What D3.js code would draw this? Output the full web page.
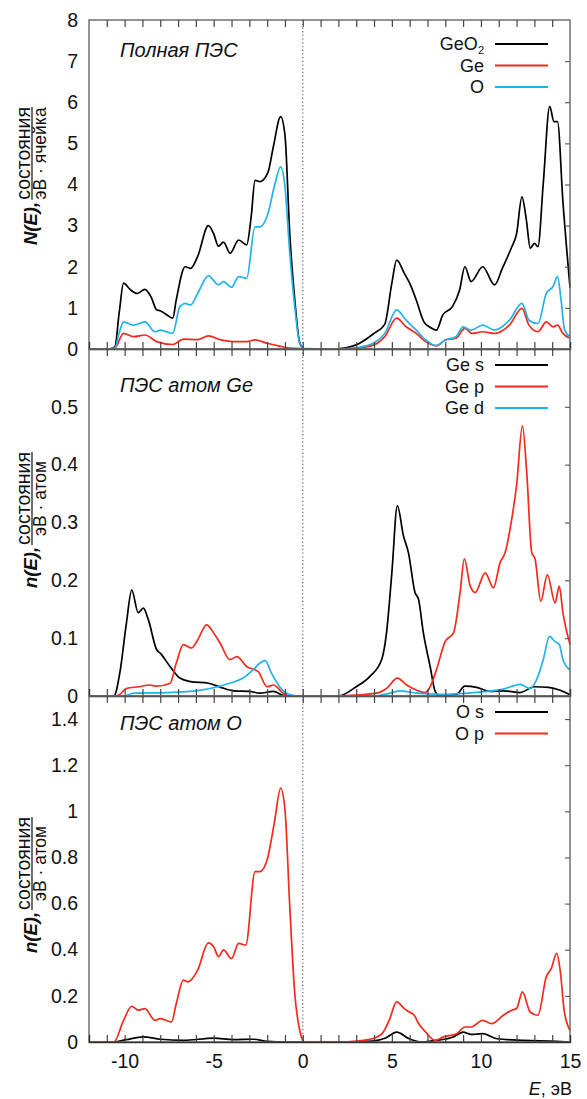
<!DOCTYPE html>
<html><head><meta charset="utf-8">
<script src="https://cdn.jsdelivr.net/npm/d3@7"></script>
<style>
html,body{margin:0;padding:0;background:#fff;}
text{font-family:"Liberation Sans",Arial,sans-serif;fill:#111;}
</style></head>
<body>
<svg id="chart" width="587" height="1099"></svg>
<script>
// ---------- DATA (energy eV, density) ----------
const xTickValues = [-10, -5, 0, 5, 10, 15];

// Panel 1: total DOS
const totalGeO2 = [[-12,0],[-10.9,0],[-10.55,0.05],[-10.3,0.9],[-10.06,1.6],[-9.7,1.45],[-9.3,1.35],[-8.86,1.45],[-8.5,1.25],[-8.2,0.95],[-8.0,0.93],[-7.6,0.82],[-7.3,0.75],[-7.1,1.2],[-6.6,2.0],[-6.3,1.96],[-5.9,2.25],[-5.3,3.0],[-5.0,2.8],[-4.73,2.5],[-4.45,2.6],[-4.08,2.33],[-3.6,2.65],[-3.15,2.53],[-2.9,3.2],[-2.68,4.1],[-2.4,4.07],[-1.95,4.3],[-1.66,4.9],[-1.24,5.65],[-1.0,5.2],[-0.73,2.8],[-0.45,1.2],[-0.17,0.15],[0.1,0],[1.8,0],[3,0.1],[4,0.38],[4.6,0.6],[5.0,1.6],[5.27,2.16],[5.7,1.84],[6.0,1.6],[6.37,1.19],[6.8,0.66],[7.1,0.54],[7.5,0.46],[7.86,0.83],[8.4,1.03],[8.8,1.43],[9.1,2.0],[9.45,1.64],[10.1,2.0],[10.77,1.56],[11.2,1.96],[11.7,2.45],[12.0,2.8],[12.3,3.7],[12.55,3.14],[12.77,2.45],[13.0,2.57],[13.2,2.49],[13.5,4.03],[13.86,5.9],[14.1,5.53],[14.3,5.53],[14.6,3.6],[15,1.5]];
const totalGe = [[-12,0],[-10.9,0],[-10.55,0.02],[-10.06,0.38],[-9.5,0.3],[-8.86,0.34],[-8.2,0.18],[-7.3,0.11],[-6.7,0.24],[-5.9,0.23],[-5.3,0.32],[-4.6,0.22],[-3.9,0.18],[-3.15,0.18],[-2.68,0.22],[-2.0,0.14],[-1.3,0.07],[-0.7,0.02],[0,0.01],[1.8,0],[3,0.02],[4,0.1],[4.6,0.3],[5.27,0.75],[5.8,0.54],[6.37,0.38],[6.9,0.18],[7.5,0.08],[8.0,0.22],[8.6,0.26],[9.1,0.5],[9.5,0.38],[10.1,0.42],[10.77,0.38],[11.6,0.58],[12.3,0.99],[12.7,0.58],[13.2,0.42],[13.67,0.66],[14.05,0.54],[14.3,0.58],[14.6,0.38],[15,0.26]];
const totalO = [[-12,0],[-10.9,0],[-10.55,0.02],[-10.3,0.4],[-10.06,0.66],[-9.5,0.58],[-8.86,0.66],[-8.3,0.42],[-8.0,0.46],[-7.3,0.38],[-6.9,1.03],[-6.6,1.11],[-6.3,1.07],[-5.9,1.35],[-5.3,1.78],[-4.73,1.56],[-4.45,1.64],[-4.0,1.5],[-3.6,1.76],[-3.15,1.72],[-2.68,2.97],[-2.4,2.97],[-1.95,3.3],[-1.6,3.95],[-1.24,4.43],[-1.0,3.95],[-0.73,2.33],[-0.45,1.03],[-0.17,0.14],[0.1,0],[1.8,0],[3,0.03],[4,0.15],[4.6,0.38],[5.27,0.95],[5.8,0.7],[6.37,0.46],[6.9,0.22],[7.5,0.08],[8.0,0.22],[8.6,0.3],[9.0,0.54],[9.45,0.46],[10.1,0.58],[10.77,0.46],[11.6,0.7],[12.3,1.11],[12.7,0.7],[13.2,0.62],[13.67,1.35],[14.05,1.52],[14.3,1.76],[14.5,1.19],[14.7,0.46],[15,0.3]];

// Panel 2: Ge partial DOS
const geS = [[-12,0],[-10.6,0],[-10.27,0.04],[-9.9,0.126],[-9.6,0.183],[-9.24,0.144],[-8.95,0.152],[-8.67,0.132],[-8.2,0.08],[-8.0,0.074],[-7.45,0.051],[-6.9,0.031],[-6.3,0.025],[-5.3,0.022],[-4.6,0.015],[-3.9,0.009],[-3.0,0.008],[-2.4,0.005],[-1.65,0.008],[-1.1,0.001],[-0.8,0],[2.0,0],[3.0,0.016],[3.77,0.034],[4.43,0.063],[4.7,0.109],[5.0,0.213],[5.31,0.329],[5.65,0.277],[5.93,0.248],[6.3,0.179],[6.5,0.167],[6.77,0.109],[7.15,0.051],[7.43,0.008],[7.7,0],[8.64,0.003],[9.1,0.017],[9.77,0.015],[10.5,0.008],[11.26,0.009],[12.2,0.006],[13.0,0.016],[13.8,0.015],[14.45,0.01],[15,0.002]];
const geP = [[-12,0],[-10.5,0],[-10.3,0.002],[-9.9,0.013],[-9.2,0.016],[-8.6,0.019],[-8.2,0.017],[-7.45,0.022],[-7.1,0.057],[-6.7,0.089],[-6.25,0.083],[-5.9,0.097],[-5.4,0.123],[-5.0,0.109],[-4.6,0.089],[-4.1,0.063],[-3.7,0.068],[-3.15,0.051],[-2.5,0.042],[-2.0,0.016],[-1.65,0.019],[-1.1,0.005],[-0.7,0],[2.0,0],[4.15,0.005],[4.7,0.013],[5.31,0.031],[5.83,0.019],[6.4,0.01],[6.86,0.006],[7.15,0.016],[7.5,0.045],[7.99,0.094],[8.46,0.109],[8.83,0.179],[9.07,0.237],[9.4,0.19],[9.68,0.179],[10.24,0.213],[10.7,0.187],[11.08,0.231],[11.36,0.248],[11.73,0.306],[12.0,0.364],[12.33,0.467],[12.57,0.387],[12.85,0.248],[13.04,0.237],[13.36,0.164],[13.73,0.21],[14.16,0.161],[14.4,0.19],[14.6,0.144],[15,0.089]];
const geD = [[-12,0],[-10.0,0],[-9.5,0.005],[-7.6,0.006],[-6.3,0.008],[-5.2,0.013],[-4.1,0.022],[-3.35,0.031],[-2.8,0.045],[-2.4,0.057],[-2.1,0.061],[-1.8,0.042],[-1.3,0.016],[-0.7,0.002],[-0.3,0],[4.0,0],[4.9,0.005],[5.46,0.009],[6.4,0.005],[7.7,0.003],[9.6,0.006],[11.26,0.012],[12.2,0.02],[12.76,0.013],[13.2,0.034],[13.5,0.063],[13.85,0.103],[14.16,0.094],[14.4,0.089],[14.6,0.063],[15,0.045]];

// Panel 3: O partial DOS
const oS = [[-12,0],[-10.6,0],[-9.9,0.01],[-8.95,0.022],[-8.0,0.012],[-6.7,0.007],[-5.0,0.017],[-3.9,0.01],[-2.77,0.012],[-2.0,0.003],[-0.9,0],[2.0,0],[3.9,0.004],[4.65,0.017],[5.27,0.043],[5.98,0.014],[6.7,0],[7.5,0.007],[8.45,0.022],[9.0,0.043],[9.45,0.033],[10.1,0.036],[10.9,0.014],[12.4,0.007],[14.25,0.003],[15,0]];
const oP = [[-12,0],[-10.6,0],[-10.06,0.094],[-9.6,0.155],[-9.24,0.138],[-8.86,0.145],[-8.3,0.094],[-8.0,0.101],[-7.37,0.087],[-7.1,0.167],[-6.7,0.268],[-6.45,0.261],[-5.9,0.312],[-5.3,0.43],[-5.0,0.413],[-4.73,0.37],[-4.45,0.399],[-4.0,0.362],[-3.6,0.428],[-3.2,0.42],[-2.68,0.739],[-2.4,0.739],[-2.0,0.79],[-1.6,0.949],[-1.24,1.101],[-1.0,1.007],[-0.73,0.587],[-0.45,0.21],[-0.17,0.05],[0.1,0],[2.0,0],[3.0,0.004],[3.9,0.014],[4.45,0.036],[4.85,0.094],[5.27,0.174],[5.7,0.145],[5.98,0.13],[6.26,0.116],[6.5,0.08],[6.9,0.043],[7.43,0.007],[7.9,0.022],[8.64,0.036],[9.1,0.065],[9.45,0.065],[10.1,0.094],[10.6,0.08],[11.26,0.116],[11.73,0.138],[12.0,0.145],[12.33,0.217],[12.76,0.13],[13.2,0.116],[13.67,0.283],[13.95,0.319],[14.25,0.384],[14.47,0.297],[14.67,0.138],[15,0.051]];

const panel1Labels = ["GeO2", "Ge", "O"];
const panel2Labels = ["Ge s", "Ge p", "Ge d"];
const panel3Labels = ["O s", "O p"];
const panelTitles = ["Полная ПЭС", "ПЭС атом Ge", "ПЭС атом O"];
const panel1YTicks = [0,1,2,3,4,5,6,7,8];
const panel2YTicks = [0,0.1,0.2,0.3,0.4,0.5];
const panel3YTicks = [0,0.2,0.4,0.6,0.8,1,1.2,1.4];

// ---------- LAYOUT ----------
const svg = d3.select('#chart');
svg.append('rect').attr('width',587).attr('height',1099).attr('fill','#fff');
const colors = ['#000000', '#f5291c', '#1fb3ea'];
const x = d3.scaleLinear().domain([-12, 15]).range([89, 570]);

const panels = [
  {top:20, bottom:349, domain:[0,8], ticks:panel1YTicks, series:[totalGeO2,totalGe,totalO], labels:panel1Labels, legY:44, labBottom:245, head:'N(E),', den:'эВ · ячейка', titleY:57},
  {top:349, bottom:696, domain:[0,0.6], ticks:panel2YTicks, series:[geS,geP,geD], labels:panel2Labels, legY:365, labBottom:588, head:'n(E),', den:'эВ · атом', titleY:392},
  {top:696, bottom:1042, domain:[0,1.5], ticks:panel3YTicks, series:[oS,oP], labels:panel3Labels, legY:712, labBottom:953, head:'n(E),', den:'эВ · атом', titleY:730}
];

const minorX = d3.range(-11, 15, 1);
const numFmt = v => String(v);

panels.forEach((p, pi) => {
  const y = d3.scaleLinear().domain(p.domain).range([p.bottom, p.top]);
  const g = svg.append('g');

  // zero line (dotted)
  g.append('line').attr('x1',x(0)).attr('x2',x(0)).attr('y1',p.top).attr('y2',p.bottom)
    .attr('stroke','#777').attr('stroke-width',1.3).attr('stroke-dasharray','1.3,2.4');

  // curves
  const line = d3.line().x(d=>x(d[0])).y(d=>y(d[1])).curve(d3.curveMonotoneX);
  p.series.forEach((s, si) => {
    g.append('path').datum(s).attr('d', line).attr('fill','none')
      .attr('stroke', colors[si]).attr('stroke-width',1.7).attr('stroke-linejoin','round');
  });

  // frame
  g.append('rect').attr('x',x(-12)).attr('y',p.top).attr('width',x(15)-x(-12)).attr('height',p.bottom-p.top)
    .attr('fill','none').attr('stroke','#666').attr('stroke-width',1.4);

  // bottom axis ticks (inward)
  const xb = d3.axisBottom(x).tickValues(minorX).tickSize(-7).tickFormat('');
  const gb = g.append('g').attr('transform',`translate(0,${p.bottom})`).call(xb);
  gb.select('.domain').attr('stroke','#333').attr('stroke-width',1.4);
  gb.selectAll('.tick line').attr('stroke','#444').attr('stroke-width',1.2);
  // top axis ticks (inward)
  const xt = d3.axisTop(x).tickValues(minorX).tickSize(-7).tickFormat('');
  const gt = g.append('g').attr('transform',`translate(0,${p.top})`).call(xt);
  gt.select('.domain').remove();
  gt.selectAll('.tick line').attr('stroke','#444').attr('stroke-width',1.2);

  // left y axis labels
  const yl = d3.axisLeft(y).tickValues(p.ticks).tickSize(0).tickPadding(11).tickFormat(numFmt);
  const gl = g.append('g').attr('transform',`translate(${x(-12)},0)`).call(yl);
  gl.select('.domain').remove();
  gl.selectAll('.tick text').attr('font-size',19.5).attr('font-family','"Liberation Sans",Arial,sans-serif').attr('fill','#111');
  // right y ticks
  const yr = d3.axisRight(y).tickValues(p.ticks.filter(v => v > 0 && y(v) > p.top + 2)).tickSize(-5).tickFormat('');
  const gr = g.append('g').attr('transform',`translate(${x(15)},0)`).call(yr);
  gr.select('.domain').remove();
  gr.selectAll('.tick line').attr('stroke','#555').attr('stroke-width',1.1);

  // title
  g.append('text').attr('x',120).attr('y',p.titleY).attr('font-size',20).attr('font-style','italic')
    .text(panelTitles[pi]);

  // legend
  p.labels.forEach((lab, li) => {
    const ly = p.legY + li*21.5;
    const t = g.append('text').attr('x',484).attr('y',ly+6).attr('text-anchor','end').attr('font-size',18);
    if (lab === 'GeO2') {
      t.append('tspan').text('GeO');
      t.append('tspan').attr('font-size',11).attr('dy',4).text('2');
    } else t.text(lab);
    g.append('line').attr('x1',495).attr('x2',548).attr('y1',ly).attr('y2',ly)
      .attr('stroke',colors[li]).attr('stroke-width',1.8);
  });

  // y label (rotated)
  const grp = svg.append('g').attr('transform','rotate(-90)');
  const h = grp.append('text').attr('x',-p.labBottom).attr('y',37).attr('font-size',18.5)
    .attr('font-weight','bold').attr('font-style','italic').text(p.head);
  const L = h.node().getComputedTextLength();
  const start = -p.labBottom + L + 2;
  const num = grp.append('text').attr('y',29.5).attr('font-size',19.5).text('состояния');
  const W = num.node().getComputedTextLength();
  num.attr('x', start + W/2).attr('text-anchor','middle');
  grp.append('line').attr('x1',start).attr('x2',start+W).attr('y1',32).attr('y2',32).attr('stroke','#111').attr('stroke-width',1.2);
  grp.append('text').attr('x', start + W/2).attr('y',46).attr('text-anchor','middle').attr('font-size',17.5).text(p.den);
});

// x tick labels
const xl = d3.axisBottom(x).tickValues(xTickValues).tickSize(0).tickPadding(12).tickFormat(numFmt);
const gxl = svg.append('g').attr('transform','translate(0,1042)').call(xl);
gxl.select('.domain').remove();
gxl.selectAll('.tick text').attr('font-size',19.5).attr('font-family','"Liberation Sans",Arial,sans-serif').attr('fill','#111');

// x axis title
const xt = svg.append('text').attr('x',572).attr('y',1095).attr('text-anchor','end').attr('font-size',18);
xt.append('tspan').attr('font-style','italic').text('E');
xt.append('tspan').text(', эВ');
</script>
</body></html>
